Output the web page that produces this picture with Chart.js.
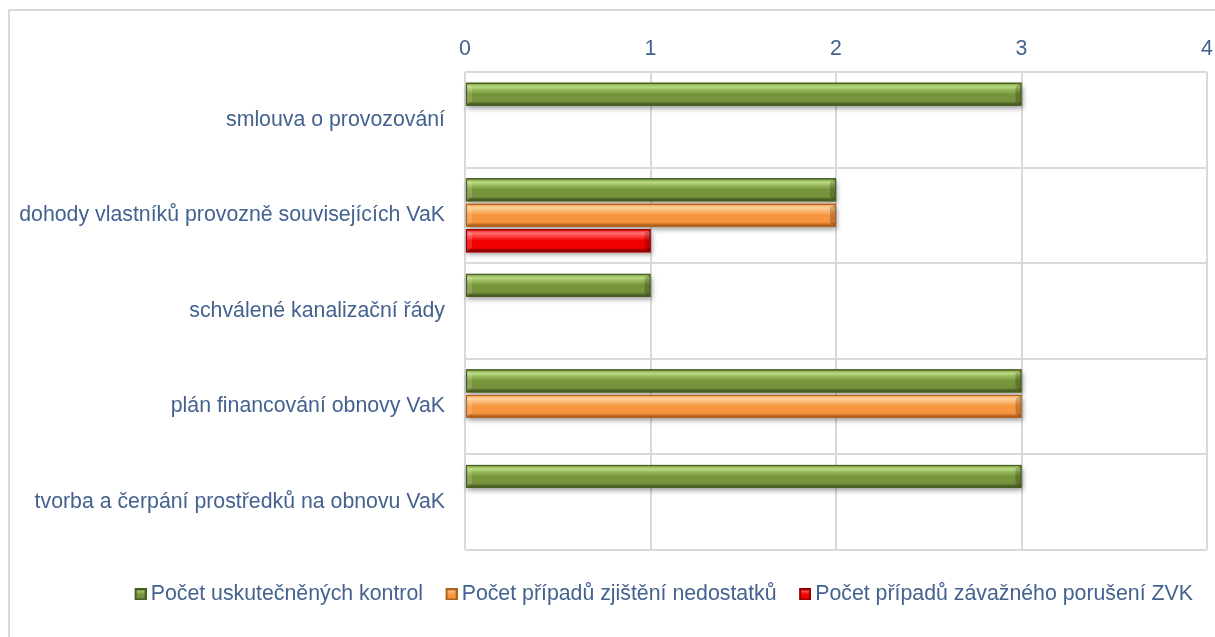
<!DOCTYPE html>
<html>
<head>
<meta charset="utf-8">
<script src="https://cdn.jsdelivr.net/npm/chart.js@4.4.0/dist/chart.umd.min.js"></script>
<style>
  html,body{margin:0;padding:0;background:#fff;width:1215px;height:637px;overflow:hidden;}
  #frame{position:absolute;left:8px;top:9px;width:1220px;height:640px;border-left:2px solid #d9d9d9;border-top:2px solid #d9d9d9;}
  #wrap{position:absolute;left:10px;top:11px;width:1309px;height:626px;}
</style>
</head>
<body>
<div id="frame"></div>
<div id="wrap"><canvas id="c" width="1309" height="626"></canvas></div>
<script>
const categories = [
  'smlouva o provozování',
  'dohody vlastníků provozně souvisejících VaK',
  'schválené kanalizační řády',
  'plán financování obnovy VaK',
  'tvorba a čerpání prostředků na obnovu VaK'
];
const seriesNames = [
  'Počet uskutečněných kontrol',
  'Počet případů zjištění nedostatků',
  'Počet případů závažného porušení ZVK'
];
const kontroly   = [3, 2, 1, 3, 3];
const nedostatky = [null, 2, null, 3, null];
const poruseni   = [null, 1, null, null, null];
const xTicks = [0, 1, 2, 3, 4];

const TEXT = '#44628f';
const FONT = {family:'Liberation Sans', size:21.3};
const PAL = [
  {base:'#77943c', light:'#b9da80', mid:'#93b658', dark:'#4a5e24'},
  {base:'#f7963f', light:'#fdd39a', mid:'#fab56c', dark:'#b3621e'},
  {base:'#f20000', light:'#ff7070', mid:'#ff3a3a', dark:'#960000'}
];

function markerCanvas(p){
  const c=document.createElement('canvas'); c.width=25; c.height=12;
  const g=c.getContext('2d');
  g.fillStyle=p.dark; g.fillRect(13,0,12,12);
  const gr=g.createLinearGradient(0,1,0,11);
  gr.addColorStop(0,p.light); gr.addColorStop(0.5,p.base); gr.addColorStop(1,p.base);
  g.fillStyle=gr; g.fillRect(15,2,8,8);
  return c;
}
const markers = PAL.map(markerCanvas);

const bevel = {
  id:'bevel',
  beforeDatasetsDraw(chart){
    const ctx=chart.ctx;
    ctx.save();
    ctx.shadowColor='rgba(0,0,0,0.38)'; ctx.shadowBlur=5; ctx.shadowOffsetX=1; ctx.shadowOffsetY=3;
    chart.data.datasets.forEach((ds,di)=>{
      chart.getDatasetMeta(di).data.forEach((el,i)=>{
        if(ds.data[i]==null) return;
        const p=el.getProps(['x','y','base','height'],true);
        const l=Math.min(p.x,p.base), r=Math.max(p.x,p.base);
        ctx.fillStyle='#ffffff';
        ctx.fillRect(l,p.y-p.height/2,r-l,p.height);
      });
    });
    ctx.restore();
  },
  afterDatasetsDraw(chart){
    const ctx=chart.ctx;
    ctx.save();
    chart.data.datasets.forEach((ds,di)=>{
      const pal=PAL[di];
      chart.getDatasetMeta(di).data.forEach((el,i)=>{
        if(ds.data[i]==null) return;
        const p=el.getProps(['x','y','base','height'],true);
        const l=Math.min(p.x,p.base), r=Math.max(p.x,p.base);
        const t=p.y-p.height/2, b=p.y+p.height/2;
        const g=ctx.createLinearGradient(0,t,0,b);
        g.addColorStop(0,pal.dark);
        g.addColorStop(0.07,pal.mid);
        g.addColorStop(0.18,pal.light);
        g.addColorStop(0.32,pal.mid);
        g.addColorStop(0.5,pal.base);
        g.addColorStop(0.8,pal.base);
        g.addColorStop(0.92,pal.dark);
        g.addColorStop(1,pal.dark);
        ctx.fillStyle=g;
        ctx.fillRect(l,t,r-l,b-t);
        const e=6;
        ctx.fillStyle='rgba(0,0,0,0.2)';
        ctx.beginPath();
        ctx.moveTo(r-e,t+e*0.7); ctx.lineTo(r,t); ctx.lineTo(r,b); ctx.lineTo(r-e,b-e*0.7); ctx.closePath(); ctx.fill();
        ctx.fillStyle='rgba(255,255,255,0.15)';
        ctx.beginPath();
        ctx.moveTo(l,b); ctx.lineTo(l+e,b-e*0.7); ctx.lineTo(l+e,t+e*0.7); ctx.lineTo(l,t); ctx.closePath(); ctx.fill();
        ctx.strokeStyle=pal.dark; ctx.lineWidth=1.2;
        ctx.strokeRect(l+0.5,t+0.5,r-l-1,b-t-1);
      });
    });
    ctx.restore();
  }
};

const datasets = [kontroly, nedostatky, poruseni].map((d,i)=>({
  label: seriesNames[i],
  data: d,
  backgroundColor: PAL[i].base,
  borderColor: PAL[i].dark,
  borderWidth: 0,
  categoryPercentage: 0.8,
  barPercentage: 0.9
}));

new Chart(document.getElementById('c'), {
  type:'bar',
  data:{labels:categories, datasets},
  plugins:[bevel],
  options:{
    indexAxis:'y',
    responsive:false,
    animation:false,
    layout:{padding:{top:0,right:8,bottom:22,left:0}},
    scales:{
      x:{
        position:'top', min:0, max:4,
        afterBuildTicks(s){ s.ticks = xTicks.map(v=>({value:v})); },
        afterFit(s){ s.height = 61; },
        grid:{color:'#d9d9d9', lineWidth:2, drawTicks:false},
        border:{display:false},
        ticks:{color:TEXT, font:FONT, padding:10}
      },
      x2:{
        type:'linear', position:'bottom', display:true,
        afterFit(s){ s.height = 18; },
        grid:{display:false, drawTicks:false},
        border:{display:false},
        ticks:{display:false}
      },
      y:{
        afterFit(s){ s.width = 455; },
        grid:{color:'#d9d9d9', lineWidth:2, drawTicks:false, offset:true},
        border:{display:false},
        ticks:{color:TEXT, font:FONT, padding:20}
      },
      y2:{
        type:'linear', position:'right', display:true,
        afterFit(s){ s.width = 104; },
        grid:{display:false, drawTicks:false},
        border:{display:false},
        ticks:{display:false}
      }
    },
    plugins:{
      legend:{
        position:'bottom',
        labels:{
          color:TEXT, font:FONT,
          usePointStyle:true, boxWidth:12, boxHeight:12, padding:16,
          generateLabels(chart){
            return chart.data.datasets.map((d,i)=>({
              text:d.label, pointStyle:markers[i], fillStyle:PAL[i].base,
              strokeStyle:PAL[i].dark, lineWidth:0, datasetIndex:i, hidden:false, fontColor:TEXT
            }));
          }
        }
      },
      tooltip:{enabled:false}
    }
  }
});
</script>
</body>
</html>
